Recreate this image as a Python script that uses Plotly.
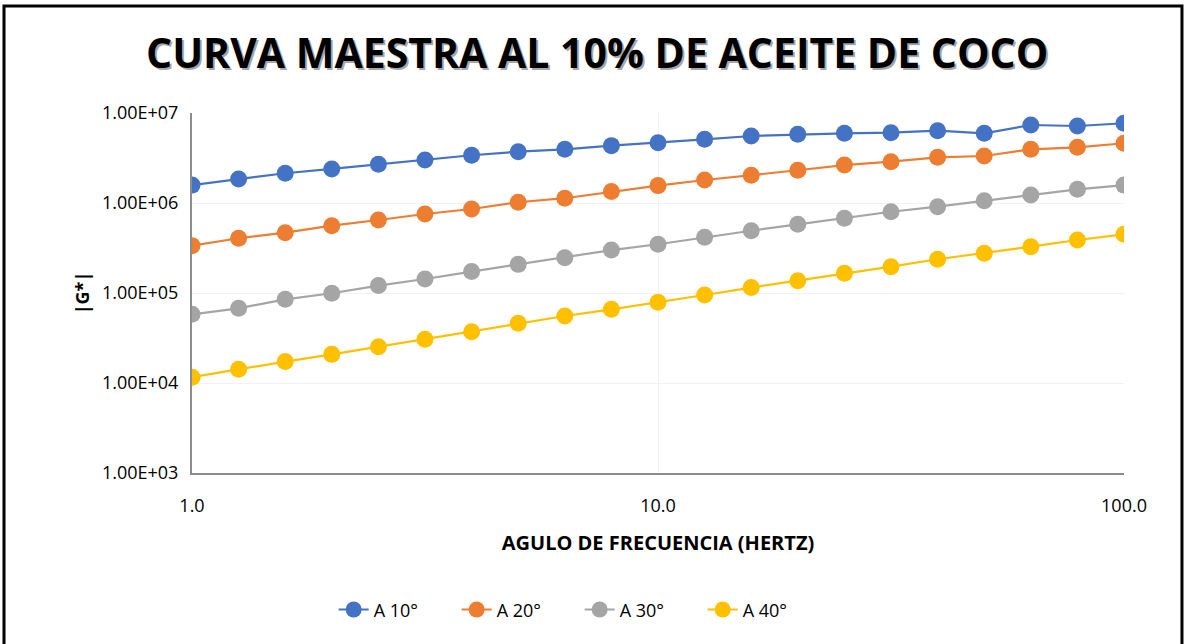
import plotly.graph_objects as go

freq = [1.0, 1.259, 1.585, 1.995, 2.512, 3.162, 3.981, 5.012, 6.310, 7.943,
        10.0, 12.59, 15.85, 19.95, 25.12, 31.62, 39.81, 50.12, 63.10, 79.43, 100.0]

g_10 = [1.58e6, 1.85e6, 2.14e6, 2.39e6, 2.69e6, 3.00e6, 3.39e6, 3.72e6, 3.95e6, 4.34e6,
        4.68e6, 5.10e6, 5.55e6, 5.80e6, 5.95e6, 6.04e6, 6.36e6, 5.95e6, 7.36e6, 7.17e6, 7.69e6]
g_20 = [3.36e5, 4.06e5, 4.68e5, 5.60e5, 6.47e5, 7.55e5, 8.58e5, 1.02e6, 1.13e6, 1.34e6,
        1.56e6, 1.80e6, 2.03e6, 2.31e6, 2.64e6, 2.88e6, 3.22e6, 3.33e6, 3.95e6, 4.16e6, 4.61e6]
g_30 = [5.80e4, 6.76e4, 8.51e4, 9.93e4, 1.21e5, 1.43e5, 1.73e5, 2.08e5, 2.47e5, 3.00e5,
        3.48e5, 4.16e5, 4.92e5, 5.80e5, 6.76e5, 8.00e5, 9.10e5, 1.06e6, 1.23e6, 1.42e6, 1.58e6]
g_40 = [1.16e4, 1.42e4, 1.73e4, 2.08e4, 2.53e4, 3.06e4, 3.72e4, 4.60e4, 5.55e4, 6.59e4,
        7.88e4, 9.50e4, 1.15e5, 1.37e5, 1.66e5, 1.96e5, 2.37e5, 2.76e5, 3.27e5, 3.88e5, 4.49e5]

series_names = ["A 10°", "A 20°", "A 30°", "A 40°"]
series_colors = ["#4472C4", "#ED7D31", "#A5A5A5", "#FFC000"]

y_tickvals = [1e3, 1e4, 1e5, 1e6, 1e7]
y_ticktext = ["1.00E+03", "1.00E+04", "1.00E+05", "1.00E+06", "1.00E+07"]
x_tickvals = [1, 10, 100]
x_ticktext = ["1.0", "10.0", "100.0"]

title_text = "CURVA MAESTRA AL 10% DE ACEITE DE COCO"
x_title = "AGULO DE FRECUENCIA (HERTZ)"
y_title = "|G*|"

FONT = "Open Sans, sans-serif"

fig = go.Figure()
for name, vals, col in zip(series_names, [g_10, g_20, g_30, g_40], series_colors):
    fig.add_trace(go.Scatter(
        x=freq, y=vals, name=name, mode="lines+markers",
        line=dict(color=col, width=2.2),
        marker=dict(color=col, size=17, line=dict(color=col, width=0)),
    ))

fig.update_layout(
    width=1186, height=644,
    margin=dict(l=192, r=62, t=113, b=171),
    paper_bgcolor="white", plot_bgcolor="white",
    font=dict(family=FONT, size=18, color="#000000"),
    showlegend=True,
    legend=dict(orientation="h", x=0.152, xanchor="left", y=-0.38, yanchor="middle",
                font=dict(family=FONT, size=18, color="#000000"),
                entrywidth=78, entrywidthmode="pixels",
                traceorder="normal"),
    xaxis=dict(type="log", range=[0, 2], tickvals=x_tickvals, ticktext=x_ticktext,
               showgrid=True, gridcolor="#F2F2F2", gridwidth=1,
               showline=True, linecolor="#8C8C8C", linewidth=2, zeroline=False,
               ticks="", tickfont=dict(size=18), ticklabelstandoff=15,
               title=dict(text="<b>" + x_title + "</b>", font=dict(size=20), standoff=20)),
    yaxis=dict(type="log", range=[3, 7], tickvals=y_tickvals, ticktext=y_ticktext,
               showgrid=True, gridcolor="#F2F2F2", gridwidth=1,
               showline=True, linecolor="#8C8C8C", linewidth=2, zeroline=False,
               ticks="", tickfont=dict(size=18), ticklabelstandoff=8,
               title=dict(text="<b>" + y_title + "</b>", font=dict(size=18), standoff=8)),
)

# title with soft shadow
for dx, dy, col in [(2, -2, "rgba(0,0,0,0.35)"), (0, 0, "#000000")]:
    fig.add_annotation(text="<b>" + title_text + "</b>", xref="paper", yref="paper",
                       x=0.435, y=1.169, xanchor="center", yanchor="middle",
                       xshift=dx, yshift=dy, showarrow=False,
                       font=dict(family="Open Sans, sans-serif", size=41, color=col))

# outer frame
fig.add_shape(type="rect", xref="paper", yref="paper",
              x0=-0.2017, x1=1.0622, y0=-0.5, y1=1.297,
              line=dict(color="black", width=3), fillcolor="rgba(0,0,0,0)", layer="above")

fig.write_html("out.html")
